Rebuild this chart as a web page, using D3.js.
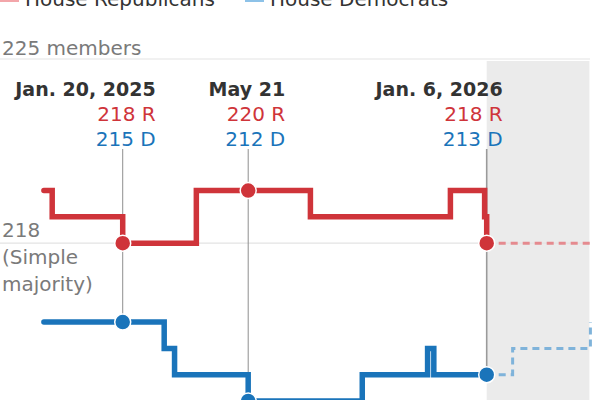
<!DOCTYPE html>
<html>
<head>
<meta charset="utf-8">
<script src="https://cdn.jsdelivr.net/npm/d3@7"></script>
<style>
  html, body { margin: 0; padding: 0; background: #fff; }
  svg { display: block; }
  text { font-family: "DejaVu Sans", sans-serif; }
</style>
</head>
<body>
<div id="chart"></div>
<script>
// ---------- data ----------
const seriesNames = ["House Republicans", "House Democrats"];
const repDates = ["2024-11-05", "2024-11-13", "2025-01-20", "2025-04-01", "2025-07-20", "2025-12-02", "2026-01-04", "2026-01-06"];
const repSeats = [220, 219, 218, 220, 219, 220, 219, 218];
const demDates = ["2024-11-05", "2025-03-01", "2025-03-11", "2025-05-21", "2025-09-08", "2025-11-10", "2025-11-16", "2026-01-06"];
const demSeats = [215, 214, 213, 212, 213, 214, 213, 213];
const repProjDates = ["2026-01-06", "2026-04-16"];
const repProjSeats = [218, 218];
const demProjDates = ["2026-01-06", "2026-01-31", "2026-04-16"];
const demProjSeats = [213, 214, 215];
const annDates = ["2025-01-20", "2025-05-21", "2026-01-06"];
const annLabels = ["Jan. 20, 2025", "May 21", "Jan. 6, 2026"];
const annRep = [218, 220, 218];
const annDem = [215, 212, 213];
const gridValues = [225, 218];
const gridLabels = ["225 members", "218"];
const majorityNote = ["(Simple", "majority)"];

// ---------- layout ----------
const W = 600, H = 400;
const annDx = [33, 37, 16];
const RED = "#cf343a", BLUE = "#1a74ba";
const RED_L = "#e58a8f", BLUE_L = "#7fb3da";

const parse = d3.timeParse("%Y-%m-%d");
const x = d3.scaleTime()
  .domain([parse("2024-11-05"), parse("2026-04-16")])
  .range([43.9, 590.4]);
const y = d3.scaleLinear().domain([212, 225]).range([401, 59]);

const svg = d3.select("#chart").append("svg").attr("width", W).attr("height", H);

// legend (cut off at top, as in the reference)
const legend = svg.append("g");
const legendX = [0, 245];
const legendCol = ["#f3a6aa", "#8dc2e8"];
seriesNames.forEach((n, i) => {
  legend.append("rect").attr("x", legendX[i]).attr("y", -5).attr("width", 19).attr("height", 7)
    .attr("fill", legendCol[i]);
  legend.append("text").attr("x", legendX[i] + 25).attr("y", 6)
    .attr("font-size", 20).attr("fill", "#333").text(n);
});

// shaded future region
const today = parse("2026-01-06");
svg.append("rect")
  .attr("x", x(today)).attr("y", y(225) + 2)
  .attr("width", x.range()[1] - x(today) - 1).attr("height", H - y(225))
  .attr("fill", "#ebebeb");

// gridlines
svg.selectAll("line.grid").data(gridValues).enter().append("line")
  .attr("x1", 0).attr("x2", 590)
  .attr("y1", d => y(d)).attr("y2", d => y(d))
  .attr("stroke", "#e3e3e3").attr("stroke-width", 1.2);

// grid labels
svg.append("text").attr("x", 2).attr("y", y(225) - 4).attr("font-size", 20).attr("fill", "#7a7a7a").text(gridLabels[0]);
svg.append("text").attr("x", 2).attr("y", y(218) - 6).attr("font-size", 20).attr("fill", "#7a7a7a").text(gridLabels[1]);
majorityNote.forEach((t, i) => {
  svg.append("text").attr("x", 2).attr("y", y(218) + 21 + i * 27).attr("font-size", 20).attr("fill", "#7a7a7a").text(t);
});

// annotation vertical lines
annDates.forEach((d, i) => {
  svg.append("line")
    .attr("x1", x(parse(d))).attr("x2", x(parse(d)))
    .attr("y1", 149).attr("y2", y(annDem[i]))
    .attr("stroke", i === 2 ? "#9a9a9a" : "#8f8f8f").attr("stroke-width", i === 2 ? 1.6 : 1);
});

const line = d3.line().x(d => x(d[0])).y(d => y(d[1])).curve(d3.curveStepAfter);
const zip = (ds, vs) => ds.map((d, i) => [parse(d), vs[i]]);

// projected dashed
svg.append("path").attr("d", line(zip(repProjDates, repProjSeats)))
  .attr("fill", "none").attr("stroke", RED_L).attr("stroke-width", 3).attr("stroke-dasharray", "7,5");
svg.append("path").attr("d", line(zip(demProjDates, demProjSeats)))
  .attr("fill", "none").attr("stroke", BLUE_L).attr("stroke-width", 3).attr("stroke-dasharray", "7,5");

// actual lines
svg.append("path").attr("d", line(zip(repDates, repSeats)))
  .attr("fill", "none").attr("stroke", RED).attr("stroke-width", 5.5)
  .attr("stroke-linecap", "round").attr("stroke-linejoin", "miter");
svg.append("path").attr("d", line(zip(demDates, demSeats)))
  .attr("fill", "none").attr("stroke", BLUE).attr("stroke-width", 5.5)
  .attr("stroke-linecap", "round").attr("stroke-linejoin", "miter");

// dots
annDates.forEach((d, i) => {
  svg.append("circle").attr("cx", x(parse(d))).attr("cy", y(annRep[i])).attr("r", 8)
    .attr("fill", RED).attr("stroke", "#fff").attr("stroke-width", 1.5);
  svg.append("circle").attr("cx", x(parse(d))).attr("cy", y(annDem[i])).attr("r", 8)
    .attr("fill", BLUE).attr("stroke", "#fff").attr("stroke-width", 1.5);
});

// annotation labels
annDates.forEach((d, i) => {
  const tx = x(parse(d)) + annDx[i];
  svg.append("text").attr("x", tx).attr("y", 96).attr("text-anchor", "end")
    .attr("font-size", 19).attr("font-weight", "bold").attr("fill", "#333").text(annLabels[i]);
  svg.append("text").attr("x", tx).attr("y", 121).attr("text-anchor", "end")
    .attr("font-size", 20).attr("fill", RED).text(annRep[i] + " R");
  svg.append("text").attr("x", tx).attr("y", 146).attr("text-anchor", "end")
    .attr("font-size", 20).attr("fill", BLUE).text(annDem[i] + " D");
});
</script>
</body>
</html>
